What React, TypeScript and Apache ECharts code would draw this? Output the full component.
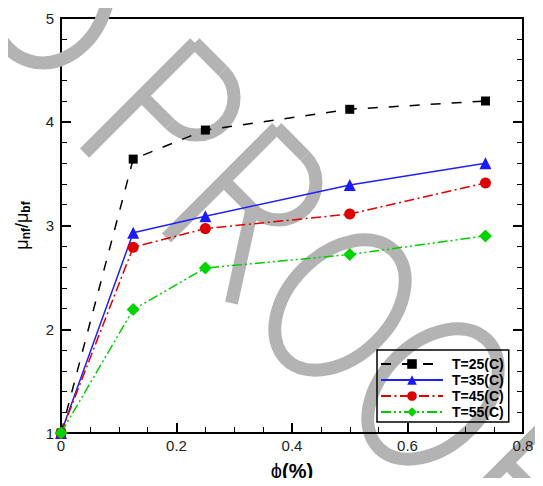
import React, { useEffect, useRef } from "react";
import * as echarts from "echarts";

// Volume fraction (%) and relative viscosity for each temperature
const phi = [0, 0.125, 0.25, 0.5, 0.735];
const t25 = [1, 3.64, 3.92, 4.12, 4.2];
const t35 = [1, 2.93, 3.09, 3.39, 3.6];
const t45 = [1, 2.79, 2.97, 3.11, 3.41];
const t55 = [1, 2.19, 2.59, 2.72, 2.9];

const seriesNames = ["T=25(C)", "T=35(C)", "T=45(C)", "T=55(C)"];
const xTicks = [0, 0.2, 0.4, 0.6, 0.8];
const yTicks = [1, 2, 3, 4, 5];

const FONT = '"Liberation Sans", Arial, sans-serif';
const WM = "#b3b3b3";
const WM_W = 13;

const pairs = (ys: number[]) => phi.map((x, i) => [x, ys[i]]);

// Stroke helpers for the grey single-line stamp letters (local coords, cap height 150)
const seg = (x1: number, y1: number, x2: number, y2: number) => ({
  type: "line",
  shape: { x1, y1, x2, y2 },
  style: { stroke: WM, lineWidth: WM_W, lineCap: "butt" },
});
const bowl = (left: number, right: number) => [
  seg(left, -75, right, -75),
  {
    type: "arc",
    shape: { cx: right, cy: -37.5, r: 37.5, startAngle: -Math.PI / 2, endAngle: Math.PI / 2, clockwise: true },
    style: { stroke: WM, lineWidth: WM_W, fill: "none" },
  },
  seg(right, 0, left, 0),
];
const oval = () => ({
  type: "ellipse",
  shape: { cx: 0, cy: 0, rx: 51.5, ry: 76.5 },
  style: { stroke: WM, lineWidth: WM_W, fill: "none" },
});

const glyphs: Record<string, () => any[]> = {
  P: () => [seg(-30, 81, -30, -75), ...bowl(-30, 10)],
  R: () => [seg(-40, 81, -40, -75), ...bowl(-40, 0), seg(0, 0, 52, 81)],
  O: () => [oval()],
  F: () => [seg(-25, 81, -25, -75), seg(-25, -75, 45, -75), seg(-25, -5, 35, -5)],
};

// Large grey "PROOF" stamp running diagonally across the plot
const stampLetters = [
  { ch: "P", x: 163, y: 117 },
  { ch: "R", x: 252, y: 209 },
  { ch: "O", x: 340, y: 305 },
  { ch: "O", x: 433, y: 394 },
  { ch: "F", x: 521, y: 484 },
];

function buildStamp() {
  const els: any[] = stampLetters.map((l) => ({
    type: "group",
    x: l.x,
    y: l.y,
    rotation: -Math.PI / 4,
    z: 1,
    silent: true,
    children: glyphs[l.ch](),
  }));
  els.push({
    type: "ellipse",
    x: 50,
    y: -8,
    rotation: -0.3,
    z: 1,
    silent: true,
    shape: { cx: 0, cy: 0, rx: 58, ry: 72 },
    style: { fill: "none", stroke: WM, lineWidth: WM_W },
  });
  return els;
}

export default function App() {
  const ref = useRef<HTMLDivElement>(null);

  useEffect(() => {
    if (!ref.current) return;
    const chart = echarts.init(ref.current, null, { renderer: "svg" });

    const axisLineStyle = { color: "#000", width: 2 };

    const option: any = {
      animation: false,
      backgroundColor: "#fff",
      grid: { left: 61, right: 20, top: 18, bottom: 46, containLabel: false },
      graphic: buildStamp(),
      legend: {
        orient: "vertical",
        left: 377,
        top: 350,
        itemWidth: 62,
        itemHeight: 12,
        itemGap: 2,
        padding: [7, 5, 3, 3],
        borderColor: "#000",
        borderWidth: 1.5,
        backgroundColor: "transparent",
        data: seriesNames,
        textStyle: {
          fontSize: 14,
          fontWeight: "bold",
          color: "#000",
          fontFamily: FONT,
          lineHeight: 14,
          padding: [0, 0, 0, 4],
        },
      },
      xAxis: [
        {
          type: "value",
          position: "bottom",
          min: xTicks[0],
          max: xTicks[xTicks.length - 1],
          interval: 0.2,
          name: "{p|\u03d5}{b|(%)}",
          nameLocation: "middle",
          nameGap: 28,
          nameTextStyle: {
            rich: {
              p: { fontSize: 20, fontFamily: FONT, color: "#000" },
              b: { fontSize: 20, fontWeight: "bold", fontFamily: FONT, color: "#000" },
            },
          },
          axisLine: { show: true, onZero: false, lineStyle: axisLineStyle },
          axisTick: { show: true, inside: true, length: 10, lineStyle: { color: "#000", width: 2 } },
          minorTick: { show: true, splitNumber: 4, length: 6, lineStyle: { color: "#000", width: 1 } },
          splitLine: { show: false },
          axisLabel: {
            margin: 5,
            fontSize: 15,
            color: "#222",
            fontFamily: FONT,
            formatter: (v: number) => (v === 0 ? "0" : String(+v.toFixed(1))),
          },
        },
        {
          type: "value",
          position: "top",
          min: xTicks[0],
          max: xTicks[xTicks.length - 1],
          interval: 0.2,
          axisLine: { show: true, onZero: false, lineStyle: axisLineStyle },
          axisTick: { show: false },
          axisLabel: { show: false },
          splitLine: { show: false },
        },
      ],
      yAxis: [
        {
          type: "value",
          position: "left",
          min: yTicks[0],
          max: yTicks[yTicks.length - 1],
          interval: 1,
          name: "{m|\u03bc}{s|nf}{m|/\u03bc}{s|bf}",
          nameLocation: "middle",
          nameRotate: 90,
          nameGap: 29,
          nameTextStyle: {
            rich: {
              m: { fontSize: 18, fontFamily: FONT, color: "#000" },
              s: {
                fontSize: 12,
                fontWeight: "bold",
                fontFamily: FONT,
                color: "#000",
                padding: [9, 0, 0, 0],
              },
            },
          },
          axisLine: { show: true, onZero: false, lineStyle: axisLineStyle },
          axisTick: { show: true, inside: true, length: 10, lineStyle: { color: "#000", width: 2 } },
          minorTick: { show: true, splitNumber: 5, length: 6, lineStyle: { color: "#000", width: 1 } },
          splitLine: { show: false },
          axisLabel: { margin: 7, fontSize: 15, color: "#222", fontFamily: FONT },
        },
        {
          type: "value",
          position: "right",
          min: yTicks[0],
          max: yTicks[yTicks.length - 1],
          interval: 1,
          axisLine: { show: true, onZero: false, lineStyle: axisLineStyle },
          axisTick: { show: true, inside: true, length: 10, lineStyle: { color: "#000", width: 2 } },
          minorTick: { show: true, splitNumber: 5, length: 6, lineStyle: { color: "#000", width: 1 } },
          splitLine: { show: false },
          axisLabel: { show: false },
        },
      ],
      series: [
        {
          name: seriesNames[0],
          type: "line",
          data: pairs(t25),
          symbol: "rect",
          symbolSize: 9,
          itemStyle: { color: "#000" },
          lineStyle: { color: "#000", width: 1.5, type: [10, 11] },
        },
        {
          name: seriesNames[1],
          type: "line",
          data: pairs(t35),
          symbol: "triangle",
          symbolSize: 12,
          itemStyle: { color: "#1a1aff" },
          lineStyle: { color: "#2020ff", width: 1.5, type: "solid" },
        },
        {
          name: seriesNames[2],
          type: "line",
          data: pairs(t45),
          symbol: "circle",
          symbolSize: 11,
          itemStyle: { color: "#dd0000" },
          lineStyle: { color: "#e00000", width: 1.5, type: [10, 3.5, 2, 3.5] },
        },
        {
          name: seriesNames[3],
          type: "line",
          data: pairs(t55),
          symbol: "diamond",
          symbolSize: 13,
          itemStyle: { color: "#00d400" },
          lineStyle: { color: "#00cc00", width: 1.5, type: [10, 3, 2, 3, 2, 3] },
        },
      ].map((s) => ({ ...s, xAxisIndex: 0, yAxisIndex: 0, showSymbol: true, z: 3 })),
    };

    chart.setOption(option);
    return () => chart.dispose();
  }, []);

  return <div ref={ref} style={{ width: 543, height: 486, margin: -8 }} />;
}
